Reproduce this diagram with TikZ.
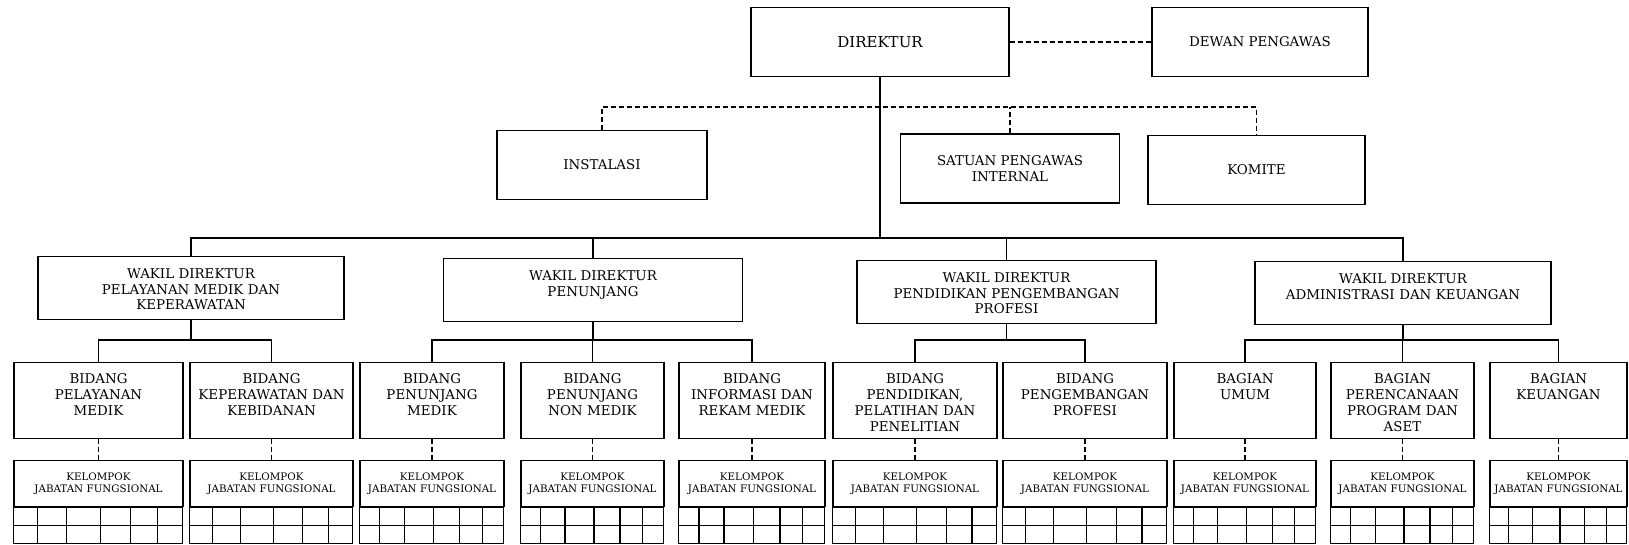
\documentclass[tikz,border=0pt]{standalone}
\usepackage{fontspec}
\setmainfont{DejaVu Serif}
\usetikzlibrary{calc}
\usetikzlibrary{positioning}

\tikzset{
  topbox/.style={draw, line width=1.3pt, minimum height=69, inner sep=0pt, align=center, font=\fontsize{13.4}{16}\selectfont},
  wakilbox/.style={draw, line width=1.3pt, anchor=north, text width=#1, inner xsep=0pt, inner ysep=0pt, text height=22pt, text depth=41pt, align=center, font=\fontsize{13.4}{15.5}\selectfont},
  unitbox/.style={draw, line width=1.3pt, anchor=north, text width=#1, inner xsep=0pt, inner ysep=0pt, text height=21pt, text depth=55pt, align=center, font=\fontsize{13.4}{16}\selectfont},
  groupbox/.style={draw, line width=1.3pt, anchor=north, text width=#1, inner xsep=0pt, inner ysep=0pt, minimum height=46, align=center, font=\fontsize{10.3}{12.5}\selectfont},
  link/.style={line width=1.2pt},
  dlink/.style={line width=1.2pt, dash pattern=on 5pt off 3pt},
}

\begin{document}
\begin{tikzpicture}[x=1pt, y=-1pt]
  \useasboundingbox (0,0) rectangle (1629,544);

  \node[topbox, minimum width=258, font=\fontsize{15}{18}\selectfont] (dir) at (880, 42) {DIREKTUR};
  \node[topbox, minimum width=216] (dewan) at (1260, 42) {DEWAN PENGAWAS};
  \draw[dlink] (dir.east) -- (dewan.west);

  \node[topbox, minimum width=210] (inst) at (602, 165) {INSTALASI};
  \node[topbox, minimum width=219] (sat) at (1010, 168.5) {SATUAN PENGAWAS\\INTERNAL};
  \node[topbox, minimum width=217] (kom) at (1256.5, 170) {KOMITE};

  \coordinate (dbus) at (0, 107);
  \coordinate (mbus) at (0, 238);
  \draw[dlink] (inst.north) |- (kom.north |- dbus) -- (kom.north);
  \draw[dlink] (sat.north) -- (sat.north |- dbus);

  \node[wakilbox=306] (w1) at (191, 256) {WAKIL DIREKTUR\\PELAYANAN MEDIK DAN\\KEPERAWATAN};
  \node[wakilbox=299] (w2) at (593, 258) {WAKIL DIREKTUR\\PENUNJANG};
  \node[wakilbox=299] (w3) at (1006.5, 260) {WAKIL DIREKTUR\\PENDIDIKAN PENGEMBANGAN\\PROFESI};
  \node[wakilbox=296] (w4) at (1403, 261) {WAKIL DIREKTUR\\ADMINISTRASI DAN KEUANGAN};

  \draw[link] (dir.south) -- (dir.south |- mbus);
  \draw[link] (w1.north) |- (w4.north |- mbus) -- (w4.north);
  \draw[link] (w2.north) -- (w2.north |- mbus);
  \draw[link] (w3.north) -- (w3.north |- mbus);

  \foreach \n/\xa/\xb/\p/\txt in {
      1/14/183/1/{BIDANG\\PELAYANAN\\MEDIK},
      2/190/353/1/{BIDANG\\KEPERAWATAN DAN\\KEBIDANAN},
      3/360/504/2/{BIDANG\\PENUNJANG\\MEDIK},
      4/521/664/2/{BIDANG\\PENUNJANG\\NON MEDIK},
      5/679/825/2/{BIDANG\\INFORMASI DAN\\REKAM MEDIK},
      6/833/997/3/{BIDANG\\PENDIDIKAN,\\PELATIHAN DAN\\PENELITIAN},
      7/1003/1167/3/{BIDANG\\PENGEMBANGAN\\PROFESI},
      8/1174/1316/4/{BAGIAN\\UMUM},
      9/1331/1474/4/{BAGIAN\\PERENCANAAN\\PROGRAM DAN\\ASET},
      10/1490/1627/4/{BAGIAN\\KEUANGAN}} {
    \node[unitbox={\xb-\xa}] (b\n) at ({(\xa+\xb)/2}, 362) {\txt};
    \node[groupbox={\xb-\xa}] (k\n) at ({(\xa+\xb)/2}, 460) {KELOMPOK\\JABATAN FUNGSIONAL};
    \draw[link] (b\n.north) -- ++(0,-22) -| (w\p.south);
    \draw[dlink] (b\n.south) -- (k\n.north);
    \draw[line width=1.3pt] (k\n.south west) rectangle ++({\xb-\xa},36);
    \draw[link] ($(k\n.south west)+(0,18)$) -- ++({\xb-\xa},0);
    \foreach \f in {0.14,0.31,0.51,0.69,0.845}
      \draw[link] ($(k\n.south west)!\f!(k\n.south east)$) -- ++(0,36);
  }
\end{tikzpicture}
\end{document}
